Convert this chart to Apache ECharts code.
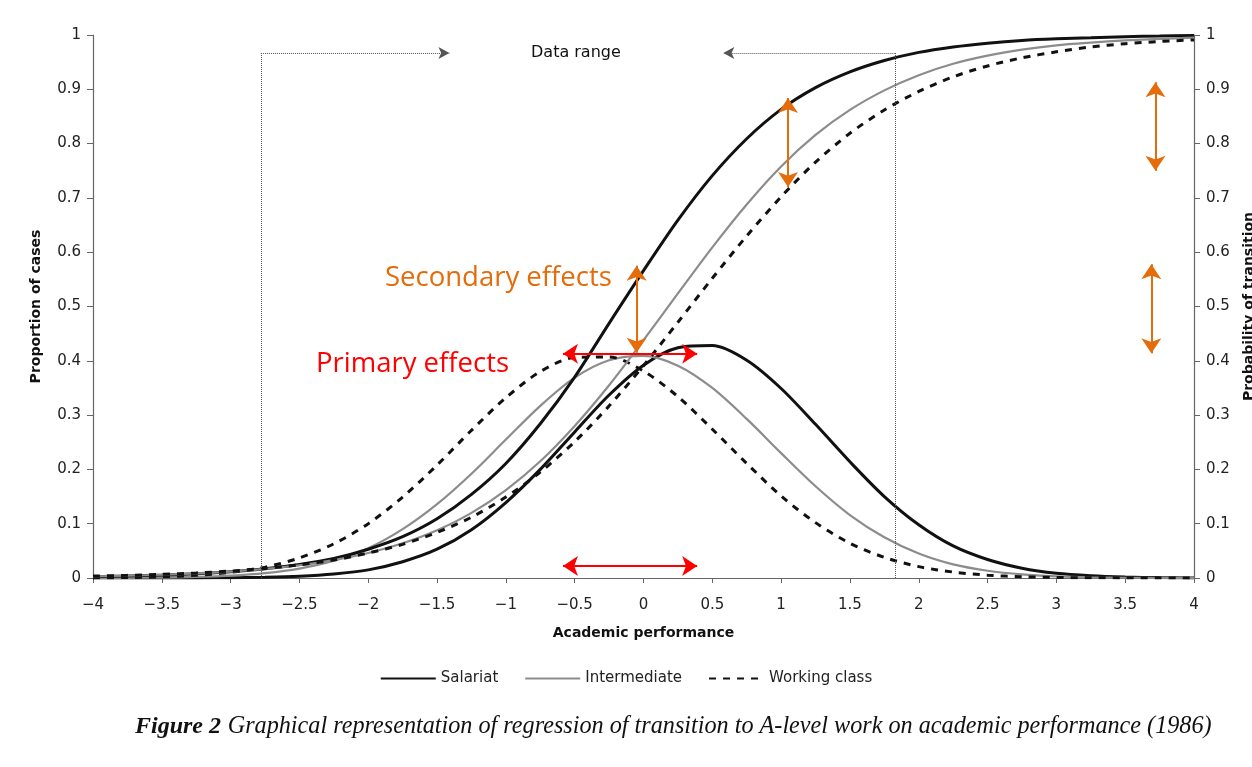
<!DOCTYPE html>
<html>
<head>
<meta charset="utf-8">
<script src="https://cdn.jsdelivr.net/npm/echarts@6/dist/echarts.min.js"></script>
<style>
html,body{margin:0;padding:0;background:#fff;}
#c{width:1252px;height:767px;}
</style>
</head>
<body>
<div id="c"></div>
<script>
// ---- data ----
const xValues = [-4,-3.75,-3.5,-3.25,-3,-2.75,-2.5,-2.25,-2,-1.75,-1.5,-1.25,-1,-0.75,-0.5,-0.25,0,0.25,0.5,0.75,1,1.25,1.5,1.75,2,2.25,2.5,2.75,3,3.25,3.5,3.75,4];

// distribution of academic performance (proportion of cases)
const salariatCases     = [0.000,0.000,0.0001,0.0002,0.0005,0.0014,0.0033,0.0074,0.015,0.030,0.053,0.089,0.139,0.200,0.269,0.337,0.392,0.424,0.428,0.401,0.349,0.283,0.214,0.150,0.098,0.059,0.034,0.018,0.0086,0.0040,0.0017,0.0007,0.0002];
const intermediateCases = [0.0001,0.0003,0.0008,0.0019,0.0042,0.0089,0.0174,0.032,0.055,0.090,0.136,0.192,0.255,0.317,0.369,0.401,0.409,0.391,0.350,0.293,0.230,0.169,0.116,0.075,0.045,0.025,0.0134,0.0066,0.0031,0.0013,0.0005,0.0002,0.0001];
const workingCases      = [0.0004,0.0009,0.0022,0.0050,0.0104,0.020,0.037,0.063,0.100,0.149,0.208,0.272,0.332,0.380,0.406,0.407,0.381,0.334,0.274,0.211,0.151,0.102,0.064,0.038,0.021,0.011,0.0052,0.0023,0.0010,0.0004,0.0002,0.0001,0.0000];

// probability of transition
const salariatProb     = [0.0024,0.0036,0.0053,0.0078,0.0115,0.017,0.025,0.036,0.053,0.076,0.109,0.154,0.211,0.284,0.370,0.469,0.566,0.659,0.741,0.809,0.863,0.903,0.932,0.953,0.968,0.978,0.985,0.990,0.993,0.995,0.997,0.998,0.999];
const intermediateProb = [0.0030,0.0042,0.0060,0.0084,0.0119,0.0168,0.0235,0.033,0.046,0.064,0.088,0.120,0.162,0.215,0.280,0.355,0.438,0.524,0.609,0.688,0.758,0.816,0.862,0.898,0.926,0.947,0.962,0.973,0.981,0.986,0.990,0.993,0.995];
const workingProb      = [0.0035,0.0049,0.0068,0.0093,0.0128,0.0177,0.0243,0.033,0.046,0.062,0.084,0.112,0.149,0.195,0.251,0.317,0.391,0.471,0.552,0.630,0.702,0.766,0.819,0.862,0.896,0.923,0.943,0.958,0.969,0.978,0.984,0.988,0.991];

const classNames = ['Salariat','Intermediate','Working class'];

// data range bracket (x from, x to, height) and arrow tips
const dataRangeX = [-2.78, 1.83];
const dataRangeY = 0.967;
const dataRangeArrowTips = [-1.41, 0.58];

// annotation arrows: [x, yFrom, yTo] (secondary effects) and [y, xFrom, xTo] (primary effects)
const secondaryArrows = [[-0.05,0.575,0.415],[1.05,0.884,0.72],[3.72,0.913,0.75],[3.69,0.578,0.414]];
const primaryArrows = [[0.413,-0.585,0.39],[0.022,-0.585,0.39]];

// ---- chart ----
const pair = ys => xValues.map((x,i)=>[x, ys[i]]);
const chart = echarts.init(document.getElementById('c'), null, {renderer:'canvas'});
const FONT = '"DejaVu Sans", Arial, sans-serif';
const axisCol = '#666';
const fmtX = v => (v < 0 ? '\u2212' + Math.abs(v) : String(v));
const fmtY = v => (v === 0 ? '0' : v === 1 ? '1' : v.toFixed(1));

const styles = {
  'Salariat': {color:'#111', width:3, type:'solid'},
  'Intermediate': {color:'#8c8c8c', width:2.2, type:'solid'},
  'Working class': {color:'#111', width:3, type:[7,7]}
};
function mkSeries(name, data, yIndex){
  const s = styles[name];
  return {
    name, type:'line', data: pair(data), yAxisIndex:yIndex, smooth:0.3,
    symbol:'none', showSymbol:false, silent:true,
    lineStyle:{color:s.color, width:s.width, type:s.type},
    itemStyle:{color:s.color}
  };
}

const orange = '#E46C0A';
const red = '#FF0000';
const dotted = {color:'#555',width:1,type:[1,1]};

const annotationSeries = {
  type:'line', data:[], yAxisIndex:0, silent:true,
  markLine:{
    silent:true, animation:false,
    label:{show:false},
    emphasis:{disabled:true},
    data:[
      [{coord:[dataRangeX[0],0], symbol:'none', lineStyle:dotted},{coord:[dataRangeX[0],dataRangeY], symbol:'none'}],
      [{coord:[dataRangeX[1],0], symbol:'none', lineStyle:dotted},{coord:[dataRangeX[1],dataRangeY], symbol:'none'}],
      [{coord:[dataRangeX[0],dataRangeY], symbol:'none', lineStyle:dotted},{coord:[dataRangeArrowTips[0],dataRangeY], symbol:'arrow', symbolSize:[9,11]}],
      [{coord:[dataRangeX[1],dataRangeY], symbol:'none', lineStyle:dotted},{coord:[dataRangeArrowTips[1],dataRangeY], symbol:'arrow', symbolSize:[9,11]}],
      ...secondaryArrows.map(a => [
        {coord:[a[0],a[1]], symbol:'arrow', symbolSize:[15,15], lineStyle:{color:orange,width:2,type:'solid'}},
        {coord:[a[0],a[2]], symbol:'arrow', symbolSize:[15,15]}
      ]),
      ...primaryArrows.map(a => [
        {coord:[a[1],a[0]], symbol:'arrow', symbolSize:[15,15], lineStyle:{color:red,width:2,type:'solid'}},
        {coord:[a[2],a[0]], symbol:'arrow', symbolSize:[15,15]}
      ])
    ]
  }
};

const yAxisBase = {
  type:'value', min:0, max:1, interval:0.1,
  nameLocation:'middle', nameRotate:90,
  nameTextStyle:{fontFamily:FONT, fontSize:14, fontWeight:'bold', color:'#111'},
  axisLine:{show:true, onZero:false, lineStyle:{color:axisCol, width:1.2}},
  axisTick:{show:true, length:6, lineStyle:{color:axisCol}},
  axisLabel:{formatter:fmtY, fontFamily:FONT, fontSize:15, color:'#222', margin:12},
  splitLine:{show:false}
};

const option = {
  backgroundColor:'#ffffff',
  animation:false,
  grid:{left:93, right:58, top:35, bottom:189, outerBoundsMode:'none', containLabel:false},
  xAxis:{
    type:'value', min:-4, max:4, interval:0.5,
    name:'Academic performance', nameLocation:'middle', nameGap:48,
    nameTextStyle:{fontFamily:FONT, fontSize:14, fontWeight:'bold', color:'#111'},
    axisLine:{onZero:false, lineStyle:{color:axisCol, width:1.2}},
    axisTick:{show:true, length:5, lineStyle:{color:axisCol}},
    axisLabel:{formatter:fmtX, fontFamily:FONT, fontSize:15, color:'#222', margin:20},
    splitLine:{show:false}
  },
  yAxis:[
    Object.assign({}, yAxisBase, {position:'left', name:'Proportion of cases', nameGap:50}),
    Object.assign({}, yAxisBase, {position:'right', name:'Probability of transition', nameGap:48})
  ],
  legend:{
    data:classNames, top:666, left:'center',
    itemWidth:55, itemHeight:12, itemGap:26,
    itemStyle:{opacity:0},
    textStyle:{fontFamily:FONT, fontSize:15, color:'#222'},
    selectedMode:false
  },
  series:[
    mkSeries('Salariat', salariatCases, 0),
    mkSeries('Intermediate', intermediateCases, 0),
    mkSeries('Working class', workingCases, 0),
    mkSeries('Salariat', salariatProb, 1),
    mkSeries('Intermediate', intermediateProb, 1),
    mkSeries('Working class', workingProb, 1),
    annotationSeries
  ],
  graphic:[
    {type:'text', left:531, top:45, style:{text:'Data range', font:'16px ' + FONT, fill:'#111'}},
    {type:'text', left:385, top:264, style:{text:'Secondary effects', font:'27.5px "Open Sans", sans-serif', fill:orange}},
    {type:'text', left:316, top:350, style:{text:'Primary effects', font:'27.5px "Open Sans", sans-serif', fill:red}},
    {type:'text', left:135, top:715, style:{
      text:'{b|Figure 2}  {i|Graphical representation of regression of transition to A-level work on academic performance (1986)}',
      rich:{
        b:{fontFamily:'Liberation Serif, serif', fontStyle:'italic', fontWeight:'bold', fontSize:24, fill:'#111'},
        i:{fontFamily:'Liberation Serif, serif', fontStyle:'italic', fontSize:24.2, fill:'#111'}
      }
    }}
  ]
};
chart.setOption(option);
</script>
</body>
</html>
